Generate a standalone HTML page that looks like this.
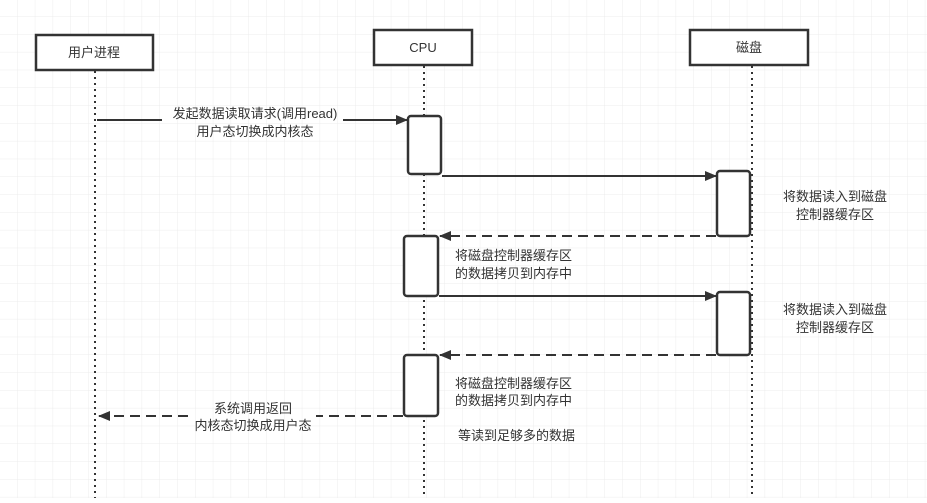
<!DOCTYPE html>
<html><head><meta charset="utf-8"><style>
body{margin:0;background:#fff}
svg text{font-family:"Liberation Sans","Noto Sans CJK SC",sans-serif;font-size:13px;fill:#333}
</style></head><body>
<svg width="927" height="498" xmlns="http://www.w3.org/2000/svg">
<defs>
<pattern id="g" width="17.8" height="17.8" patternUnits="userSpaceOnUse" x="-0.3" y="-1">
<path d="M17.8 0V17.8M0 17.8H17.8" stroke="#ececec" stroke-width="1" fill="none"/>
</pattern>
<marker id="a" markerWidth="12" markerHeight="10" refX="11" refY="5" orient="auto" markerUnits="userSpaceOnUse">
<path d="M0 0L12 5L0 10z" fill="#333"/></marker>
</defs>
<rect width="927" height="498" fill="url(#g)"/>
<g stroke="#333" stroke-width="2" stroke-dasharray="2 4" fill="none">
<line x1="95" y1="71" x2="95" y2="498"/>
<line x1="424" y1="66" x2="424" y2="498"/>
<line x1="752" y1="66" x2="752" y2="498"/>
</g>
<g stroke="#333" stroke-width="2.5" fill="#fff">
<rect x="36" y="35" width="117" height="35"/>
<rect x="374" y="30" width="98" height="35"/>
<rect x="690" y="30" width="118" height="35"/>
</g>
<text x="94" y="57" text-anchor="middle" font-size="14">用户进程</text>
<text x="423" y="52" text-anchor="middle" font-size="14">CPU</text>
<text x="749" y="52" text-anchor="middle" font-size="14">磁盘</text>
<g stroke="#333" stroke-width="2.5" fill="#fff">
<rect x="408" y="116" width="33" height="58" rx="3"/>
<rect x="717" y="171" width="33" height="65" rx="3"/>
<rect x="404" y="236" width="34" height="60" rx="3"/>
<rect x="717" y="292" width="33" height="63" rx="3"/>
<rect x="404" y="355" width="34" height="61" rx="3"/>
</g>
<g stroke="#333" stroke-width="2" fill="none">
<line x1="97" y1="120" x2="162" y2="120"/>
<line x1="343" y1="120" x2="407" y2="120" marker-end="url(#a)"/>
<line x1="442" y1="176" x2="716" y2="176" marker-end="url(#a)"/>
<line x1="716" y1="236" x2="440" y2="236" stroke-dasharray="10 6" marker-end="url(#a)"/>
<line x1="439" y1="296" x2="716" y2="296" marker-end="url(#a)"/>
<line x1="716" y1="355" x2="440" y2="355" stroke-dasharray="10 6" marker-end="url(#a)"/>
<line x1="403" y1="416" x2="316" y2="416" stroke-dasharray="10 6"/>
<line x1="188" y1="416" x2="99" y2="416" stroke-dasharray="10 6" marker-end="url(#a)"/>
</g>
<text x="255" y="118" text-anchor="middle">发起数据读取请求(调用read)</text>
<text x="255" y="136" text-anchor="middle">用户态切换成内核态</text>
<text x="835" y="201" text-anchor="middle">将数据读入到磁盘</text>
<text x="835" y="219" text-anchor="middle">控制器缓存区</text>
<text x="455" y="260">将磁盘控制器缓存区</text>
<text x="455" y="278">的数据拷贝到内存中</text>
<text x="835" y="314" text-anchor="middle">将数据读入到磁盘</text>
<text x="835" y="332" text-anchor="middle">控制器缓存区</text>
<text x="455" y="388">将磁盘控制器缓存区</text>
<text x="455" y="405">的数据拷贝到内存中</text>
<text x="458" y="440">等读到足够多的数据</text>
<text x="253" y="413" text-anchor="middle">系统调用返回</text>
<text x="253" y="430" text-anchor="middle">内核态切换成用户态</text>
</svg>
</body></html>
